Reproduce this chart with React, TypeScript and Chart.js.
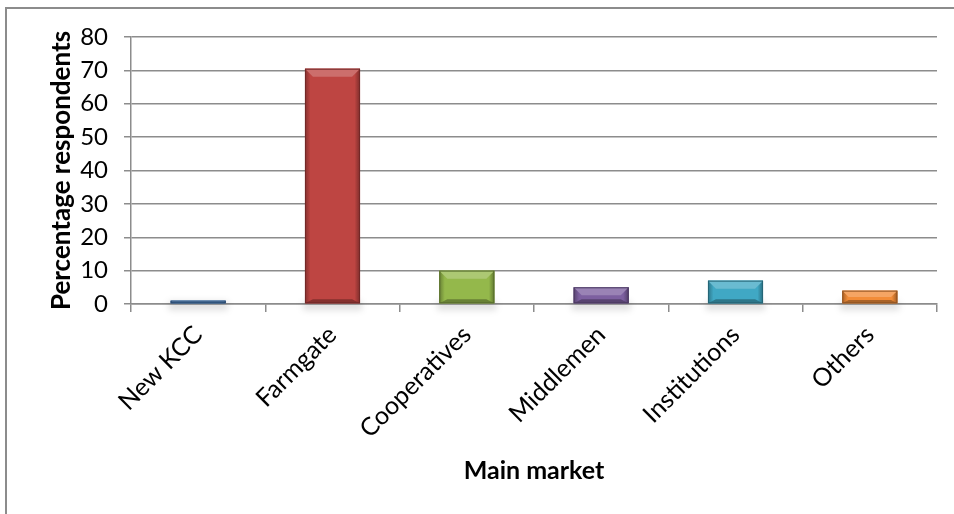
import React, { useEffect, useRef } from "react";
import { Chart, registerables } from "chart.js";

Chart.register(...registerables);

const categories = ["New KCC", "Farmgate", "Cooperatives", "Middlemen", "Institutions", "Others"];
const percentages = [1, 70.5, 10, 5, 7, 4];
const barColors = ["#4A7EBB", "#BE4542", "#94B84B", "#7D60A0", "#40A8C4", "#F28C38"];
const yTicks = [0, 10, 20, 30, 40, 50, 60, 70, 80];
const xTitle = "Main market";
const yTitle = "Percentage respondents";

const FONT = "Lato, 'Open Sans', sans-serif";

function shade(hex: string, amt: number): string {
  const n = parseInt(hex.slice(1), 16);
  let r = (n >> 16) & 255, g = (n >> 8) & 255, b = n & 255;
  if (amt >= 0) {
    r = Math.round(r + (255 - r) * amt);
    g = Math.round(g + (255 - g) * amt);
    b = Math.round(b + (255 - b) * amt);
  } else {
    r = Math.round(r * (1 + amt));
    g = Math.round(g * (1 + amt));
    b = Math.round(b * (1 + amt));
  }
  return `rgb(${r},${g},${b})`;
}

const framePlugin = {
  id: "frame",
  beforeDraw(chart: any) {
    const { ctx, width, height } = chart;
    ctx.save();
    ctx.fillStyle = "#ffffff";
    ctx.fillRect(0, 0, width, height);
    ctx.strokeStyle = "#8c8c8c";
    ctx.lineWidth = 2;
    ctx.beginPath();
    ctx.moveTo(6, height);
    ctx.lineTo(6, 8);
    ctx.lineTo(width, 8);
    ctx.stroke();
    ctx.restore();
  },
};

const bevelPlugin = {
  id: "bevel",
  beforeDatasetsDraw(chart: any) {
    const meta = chart.getDatasetMeta(0);
    const { ctx } = chart;
    ctx.save();
    meta.data.forEach((bar: any) => {
      const { x, width, base } = bar.getProps(["x", "width", "base"], true);
      const l = x - width / 2;
      ctx.fillStyle = "rgba(0,0,0,0.12)";
      ctx.filter = "blur(3px)";
      ctx.fillRect(l - 2, base - 2, width + 4, 9);
      ctx.filter = "none";
    });
    ctx.restore();
  },
  afterDatasetsDraw(chart: any) {
    const meta = chart.getDatasetMeta(0);
    const { ctx } = chart;
    ctx.save();
    meta.data.forEach((bar: any, i: number) => {
      const { x, y, width, base } = bar.getProps(["x", "y", "width", "base"], true);
      const l = x - width / 2;
      const r = x + width / 2;
      const h = base - y;
      const c = barColors[i];
      const b = Math.min(8, h / 2);
      const g = ctx.createLinearGradient(l, 0, r, 0);
      g.addColorStop(0, shade(c, -0.3));
      g.addColorStop(0.1, c);
      g.addColorStop(0.9, c);
      g.addColorStop(1, shade(c, -0.35));
      ctx.fillStyle = g;
      ctx.fillRect(l, y, width, h);
      ctx.fillStyle = shade(c, 0.22);
      ctx.beginPath();
      ctx.moveTo(l, y);
      ctx.lineTo(r, y);
      ctx.lineTo(r - b, y + b);
      ctx.lineTo(l + b, y + b);
      ctx.closePath();
      ctx.fill();
      ctx.fillStyle = shade(c, -0.3);
      ctx.beginPath();
      ctx.moveTo(l, base);
      ctx.lineTo(r, base);
      ctx.lineTo(r - b, base - b * 0.5);
      ctx.lineTo(l + b, base - b * 0.5);
      ctx.closePath();
      ctx.fill();
      ctx.strokeStyle = shade(c, -0.4);
      ctx.lineWidth = 1;
      ctx.strokeRect(l + 0.5, y + 0.5, width - 1, h - 1);
    });
    ctx.restore();
  },
};

export default function App() {
  const ref = useRef<HTMLCanvasElement | null>(null);

  useEffect(() => {
    document.body.style.margin = "0";
    const canvas = ref.current;
    if (!canvas) return;
    const chart = new Chart(canvas, {
      type: "bar",
      data: {
        labels: categories,
        datasets: [
          {
            data: percentages,
            backgroundColor: barColors,
            borderWidth: 0,
            barPercentage: 0.41,
            categoryPercentage: 1,
          },
        ],
      },
      options: {
        responsive: false,
        animation: false,
        devicePixelRatio: 1,
        layout: { padding: { top: 37, right: 17, bottom: 0, left: 42 } },
        plugins: {
          legend: { display: false },
          tooltip: { enabled: false },
        },
        scales: {
          x: {
            grid: {
              drawOnChartArea: false,
              drawTicks: true,
              tickLength: 8,
              color: "#8c8c8c",
              lineWidth: 1.5,
            },
            border: { color: "#8c8c8c", width: 1.5 },
            ticks: {
              minRotation: 45,
              maxRotation: 45,
              color: "#000",
              padding: 8,
              font: { family: FONT, size: 25 },
            },
            title: {
              display: true,
              text: xTitle,
              color: "#000",
              font: { family: FONT, size: 25, weight: "bold" },
              padding: { top: 4, bottom: 28 },
            },
            afterFit(scale: any) {
              scale.height = 210;
            },
          },
          y: {
            min: 0,
            max: 80,
            afterBuildTicks(scale: any) {
              scale.ticks = yTicks.map((v) => ({ value: v }));
            },
            grid: {
              color: "#8c8c8c",
              lineWidth: 1.5,
              drawTicks: true,
              tickLength: 7,
            },
            border: { color: "#8c8c8c", width: 1.5 },
            ticks: {
              color: "#000",
              padding: 16,
              font: { family: FONT, size: 24 },
            },
            title: {
              display: true,
              text: yTitle,
              color: "#000",
              font: { family: FONT, size: 26, weight: "bold" },
              padding: { top: 4, bottom: 4 },
            },
            afterFit(scale: any) {
              scale.width = 89;
            },
          },
        },
      },
      plugins: [framePlugin, bevelPlugin],
    });
    return () => chart.destroy();
  }, []);

  return (
    <div style={{ width: 954, height: 514 }}>
      <canvas ref={ref} width={954} height={514} style={{ display: "block", width: 954, height: 514 }} />
    </div>
  );
}
